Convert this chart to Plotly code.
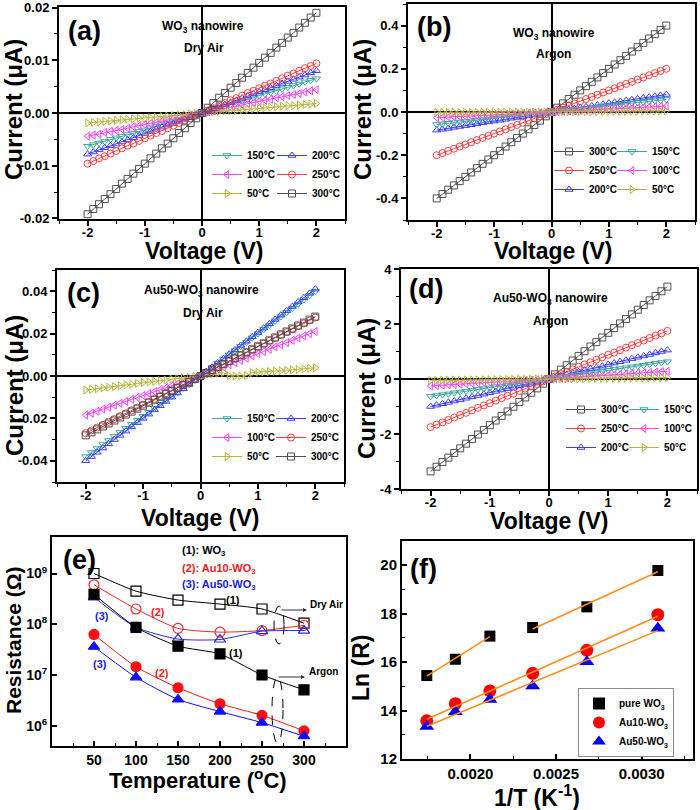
import numpy as np
import plotly.graph_objects as go

# ---------------- data ----------------
V = [-2.0,-1.9,-1.8,-1.7,-1.6,-1.5,-1.4,-1.3,-1.2,-1.1,-1.0,-0.9,-0.8,-0.7,-0.6,-0.5,-0.4,-0.3,-0.2,-0.1,
     0.0,0.1,0.2,0.3,0.4,0.5,0.6,0.7,0.8,0.9,1.0,1.1,1.2,1.3,1.4,1.5,1.6,1.7,1.8,1.9,2.0]

# (a) WO3 nanowire, dry air  (units of 1e-4 uA)
a300 = [-192,-182,-173,-163,-154,-144,-134,-125,-115,-106,-96,-86,-77,-67,-58,-48,-38,-29,-19,-10,0,10,19,29,38,48,57,67,76,86,95,105,114,124,133,143,152,162,171,181,190]
a250 = [-96,-91,-86,-82,-77,-72,-67,-62,-58,-53,-48,-43,-38,-34,-29,-24,-19,-14,-10,-5,0,5,9,14,19,24,28,33,38,42,47,52,56,61,66,71,75,80,85,89,94]
a200 = [-78,-74,-70,-66,-62,-59,-55,-51,-47,-43,-39,-35,-31,-27,-23,-20,-16,-12,-8,-4,0,4,8,12,16,20,24,28,32,36,40,44,48,52,56,60,64,68,72,76,80]
a150 = [-63,-60,-57,-54,-50,-47,-44,-41,-38,-35,-32,-28,-25,-22,-19,-16,-13,-9,-6,-3,0,3,7,10,13,16,20,23,26,29,33,36,39,42,46,49,52,55,59,62,65]
a100 = [-44,-42,-40,-37,-35,-33,-31,-29,-26,-24,-22,-20,-18,-15,-13,-11,-9,-7,-4,-2,0,2,4,7,9,11,13,15,18,20,22,24,26,29,31,33,35,37,40,42,44]
a50  = [-19,-18,-17,-16,-15,-14,-13,-12,-11,-10,-10,-9,-8,-7,-6,-5,-4,-3,-2,-1,0,1,2,3,4,5,5,6,7,8,9,10,11,12,13,14,14,15,16,17,18]

# (b) WO3 nanowire, argon  (units of 1e-3 uA)
b300 = [-400,-380,-360,-340,-320,-300,-280,-260,-240,-220,-200,-180,-160,-140,-120,-100,-80,-60,-40,-20,0,20,40,60,80,100,120,140,160,180,200,220,240,260,280,300,320,340,360,380,400]
b250 = [-200,-190,-180,-170,-160,-150,-140,-130,-120,-110,-100,-90,-80,-70,-60,-50,-40,-30,-20,-10,0,10,20,30,40,50,60,70,80,90,100,110,120,130,140,150,160,170,180,190,200]
b200 = [-84,-80,-76,-71,-67,-63,-59,-55,-50,-46,-42,-38,-34,-29,-25,-21,-17,-13,-8,-4,0,4,8,12,16,20,24,28,32,36,41,45,49,53,57,61,65,69,73,77,81]
b150 = [-58,-55,-52,-49,-46,-44,-41,-38,-35,-32,-29,-26,-23,-20,-17,-15,-12,-9,-6,-3,0,3,6,9,12,15,17,20,23,26,29,32,35,38,41,44,46,49,52,55,58]
b100 = [-26,-25,-23,-22,-21,-20,-18,-17,-16,-14,-13,-12,-10,-9,-8,-7,-5,-4,-3,-1,0,1,3,4,5,7,8,9,11,12,14,15,16,18,19,20,22,23,24,26,27]
b50  = [-2.0,-1.9,-1.8,-1.7,-1.6,-1.5,-1.4,-1.3,-1.2,-1.1,-1.0,-0.9,-0.8,-0.7,-0.6,-0.5,-0.4,-0.3,-0.2,-0.1,0,0.3,0.5,0.8,1.0,1.3,1.5,1.8,2.0,2.3,2.5,2.8,3.0,3.3,3.5,3.8,4.0,4.3,4.5,4.8,5.0]

# (c) Au50-WO3 nanowire, dry air  (units of 1e-3 uA)
c300 = [-28,-26.6,-25.2,-23.8,-22.4,-21,-19.6,-18.2,-16.8,-15.4,-14,-12.6,-11.2,-9.8,-8.4,-7,-5.6,-4.2,-2.8,-1.4,0,1.4,2.8,4.2,5.6,7,8.4,9.8,11.2,12.6,14,15.4,16.8,18.2,19.6,21,22.4,23.8,25.2,26.6,28]
c250 = [-27,-25.7,-24.3,-23,-21.6,-20.3,-18.9,-17.6,-16.2,-14.9,-13.5,-12.2,-10.8,-9.5,-8.1,-6.8,-5.4,-4.1,-2.7,-1.4,0,1.4,2.8,4.1,5.5,6.9,8.3,9.7,11,12.4,13.8,15.2,16.6,17.9,19.3,20.7,22.1,23.5,24.8,26.2,27.6]
c200 = [-40,-38,-36,-34,-32,-30,-28,-26,-24,-22,-20,-18,-16,-14,-12,-10,-8,-6,-4,-2,0,2.1,4.1,6.2,8.2,10.3,12.3,14.4,16.4,18.5,20.5,22.6,24.6,26.7,28.7,30.8,32.8,34.9,36.9,39,41]
c150 = [-38,-36.1,-34.2,-32.3,-30.4,-28.5,-26.6,-24.7,-22.8,-20.9,-19,-17.1,-15.2,-13.3,-11.4,-9.5,-7.6,-5.7,-3.8,-1.9,0,2,4,6,8,10,12,14,16,18,20,22,24,26,28,30,32,34,36,38,40]
c100 = [-18.4,-17.5,-16.6,-15.6,-14.7,-13.8,-12.9,-12.0,-11.0,-10.1,-9.2,-8.3,-7.4,-6.4,-5.5,-4.6,-3.7,-2.8,-1.8,-0.9,0,1.1,2.1,3.2,4.2,5.3,6.3,7.4,8.4,9.5,10.5,11.6,12.6,13.7,14.7,15.8,16.8,17.9,18.9,20.0,21.0]
c50  = [-6.6,-6.3,-6.0,-5.6,-5.3,-5.0,-4.6,-4.2,-3.9,-3.5,-3.1,-2.8,-2.5,-2.2,-1.9,-1.5,-1.2,-0.9,-0.6,-0.3,0,0.5,1.0,1.3,1.6,0.1,-0.1,0.0,0.2,1.6,1.8,1.9,2.1,2.3,2.5,2.7,2.9,3.1,3.3,3.6,3.9]

# (d) Au50-WO3 nanowire, argon  (units of 1e-2 uA)
d300 = [-336,-319,-302,-286,-269,-252,-235,-218,-202,-185,-168,-151,-134,-118,-101,-84,-67,-50,-34,-17,0,17,34,50,67,84,101,118,134,151,168,185,202,218,235,252,269,286,302,319,336]
d250 = [-175,-166,-158,-149,-140,-131,-123,-114,-105,-96,-88,-79,-70,-61,-53,-44,-35,-26,-18,-9,0,9,18,26,35,44,53,61,70,79,88,96,105,114,123,131,140,149,158,166,175]
d200 = [-100,-95,-90,-85,-80,-75,-70,-65,-60,-55,-50,-45,-40,-35,-30,-25,-20,-15,-10,-5,0,5,11,16,21,26,32,37,42,47,53,58,63,68,74,79,84,89,95,100,105]
d150 = [-63,-60,-57,-54,-50,-47,-44,-41,-38,-35,-32,-28,-25,-22,-19,-16,-13,-9,-6,-3,0,3,6,9,13,16,19,22,25,28,32,35,38,41,44,47,50,54,57,60,63]
d100 = [-25,-23.8,-22.5,-21.3,-20,-18.8,-17.5,-16.3,-15,-13.8,-12.5,-11.3,-10,-8.8,-7.5,-6.3,-5,-3.8,-2.5,-1.3,0,1.4,2.8,4.2,5.6,7,8.4,9.8,11.2,12.6,14,15.4,16.8,18.2,19.6,21,22.4,23.8,25.2,26.6,28]
d50  = [-5,-4.75,-4.5,-4.25,-4,-3.75,-3.5,-3.25,-3,-2.75,-2.5,-2.25,-2,-1.75,-1.5,-1.25,-1,-0.75,-0.5,-0.25,0,0.25,0.5,0.75,1,1.25,1.5,1.75,2,2.25,2.5,2.75,3,3.25,3.5,3.75,4,4.25,4.5,4.75,5]

# (e) resistance vs temperature (Ohm)
T_C = [50, 100, 150, 200, 250, 300]
R_air_WO3    = [1.0e9, 4.5e8, 3.0e8, 2.5e8, 2.0e8, 1.05e8]
R_air_Au10   = [6.0e8, 2.0e8, 8.3e7, 7.0e7, 7.5e7, 9.5e7]
R_air_Au50   = [3.4e8, 8.7e7, 5.1e7, 5.0e7, 7.3e7, 7.5e7]
R_ar_WO3     = [3.9e8, 8.7e7, 3.7e7, 2.6e7, 1.0e7, 5.1e6]
R_ar_Au10    = [6.3e7, 1.45e7, 5.6e6, 2.7e6, 1.6e6, 7.9e5]
R_ar_Au50    = [3.6e7, 9.0e6, 3.3e6, 1.9e6, 1.15e6, 6.2e5]

for s in [a300,a250,a200,a150,a100,a50,b300,b250,b200,b150,b100,b50,c300,c250,c200,c150,c100,c50,
          d300,d250,d200,d150,d100,d50]:
    assert len(s) == len(V)

# ---------------- helpers ----------------
W, H = 700, 810
def PX(x): return min(1.0, max(0.0, x / W))
def PY(y): return min(1.0, max(0.0, 1 - y / H))

FAM = "Liberation Sans"
BLACK = "black"
STYLE = {
    '300': ('#505050', 'square-open'),
    '250': ('#ff3c3c', 'circle-open'),
    '200': ('#3c3cff', 'triangle-up-open'),
    '150': ('#3aa89c', 'triangle-down-open'),
    '100': ('#ff3cff', 'triangle-left-open'),
    '50':  ('#b4b43c', 'triangle-right-open'),
}

fig = go.Figure()

panels = [
    (1, {'300': a300, '250': a250, '200': a200, '150': a150, '100': a100, '50': a50}, 1e-4,
     ['150', '100', '50'], ['200', '250', '300'], ('legend', 'legend2')),
    (2, {'300': b300, '250': b250, '200': b200, '150': b150, '100': b100, '50': b50}, 1e-3,
     ['300', '250', '200'], ['150', '100', '50'], ('legend3', 'legend4')),
    (3, {'300': c300, '250': c250, '200': c200, '150': c150, '100': c100, '50': c50}, 1e-3,
     ['150', '100', '50'], ['200', '250', '300'], ('legend5', 'legend6')),
    (4, {'300': d300, '250': d250, '200': d200, '150': d150, '100': d100, '50': d50}, 1e-2,
     ['300', '250', '200'], ['150', '100', '50'], ('legend7', 'legend8')),
]

for idx, data, scale, col1, col2, legs in panels:
    xa = 'x' if idx == 1 else f'x{idx}'
    ya = 'y' if idx == 1 else f'y{idx}'
    for col, leg in ((col1, legs[0]), (col2, legs[1])):
        for t in col:
            color, sym = STYLE[t]
            fig.add_trace(go.Scatter(
                x=V, y=np.array(data[t]) * scale, mode='lines+markers',
                name=f'{t}°C', legend=leg, xaxis=xa, yaxis=ya,
                line=dict(color=color, width=1),
                marker=dict(symbol=sym, size=7, color=color, line=dict(width=1, color=color)),
            ))

# panel e
e_series = [
    (R_air_WO3, 'black', 'square-open'), (R_air_Au10, '#e8282c', 'circle-open'), (R_air_Au50, '#2a2ae8', 'triangle-up-open'),
    (R_ar_WO3, 'black', 'square'), (R_ar_Au10, '#ff1010', 'circle'), (R_ar_Au50, '#1010ff', 'triangle-up'),
]
for r, c, sym in e_series:
    fig.add_trace(go.Scatter(x=T_C, y=r, mode='lines+markers', xaxis='x5', yaxis='y5', showlegend=False,
                             line=dict(color=c, width=1, shape='spline', smoothing=0.6),
                             marker=dict(symbol=sym, size=10, color=c, line=dict(width=1.2, color=c))))

# panel f : ln(R) in argon vs 1/T
invT = 1.0 / (np.array(T_C) + 273.15)
f_series = [
    ('pure WO<sub>3</sub>', np.log(R_ar_WO3), 'black', 'square', 11),
    ('Au10-WO<sub>3</sub>', np.log(R_ar_Au10), '#ff0000', 'circle', 13),
    ('Au50-WO<sub>3</sub>', np.log(R_ar_Au50), '#0000ff', 'triangle-up', 13),
]
for name, lnr, c, sym, sz in f_series:
    fig.add_trace(go.Scatter(x=invT, y=lnr, mode='markers', name=name, legend='legend9',
                             xaxis='x6', yaxis='y6',
                             marker=dict(symbol=sym, size=sz, color=c)))
fit_groups = [
    (np.log(R_ar_WO3), [3, 4, 5]),
    (np.log(R_ar_WO3), [0, 1, 2]),
    (np.log(R_ar_Au10), [0, 1, 2, 3, 4, 5]),
    (np.log(R_ar_Au50), [0, 1, 2, 3, 4, 5]),
]
for lnr, ids in fit_groups:
    xs = invT[ids]
    k, b0 = np.polyfit(xs, lnr[ids], 1)
    xe = np.array([xs.min(), xs.max()])
    fig.add_trace(go.Scatter(x=xe, y=k * xe + b0, mode='lines', xaxis='x6', yaxis='y6', showlegend=False,
                             line=dict(color='#ff8c1a', width=1.6)))

# ---------------- layout ----------------
boxes = {1: (59, 345, 7, 219), 2: (408, 695, 4, 220), 3: (57, 344, 270, 482),
         4: (401, 697, 269, 489), 5: (52, 346, 537, 746), 6: (402, 693, 541, 759)}

def tfont(size): return dict(family=FAM, size=size, color=BLACK, weight='bold')

def base_axis(idx, is_x, ticks='outside'):
    x0, x1, y0, y1 = boxes[idx]
    d = dict(showline=True, linecolor=BLACK, linewidth=2, mirror=True, showgrid=False,
             ticks=ticks, ticklen=5, tickwidth=1.5, tickcolor=BLACK, tickfont=tfont(13),
             automargin=False, zeroline=False)
    if is_x:
        d['domain'] = [PX(x0), PX(x1)]
        d['anchor'] = 'y' if idx == 1 else f'y{idx}'
    else:
        d['domain'] = [PY(y1), PY(y0)]
        d['anchor'] = 'x' if idx == 1 else f'x{idx}'
    return d

lay = {}
iv_y = {
    1: ([-0.0201, 0.0201], [-0.02, -0.01, 0, 0.01, 0.02], ['-0.02', '-0.01', '0.00', '0.01', '0.02'], [-0.015, -0.005, 0.005, 0.015]),
    2: ([-0.5, 0.5], [-0.4, -0.2, 0, 0.2, 0.4], ['-0.4', '-0.2', '0.0', '0.2', '0.4'], [-0.5, -0.3, -0.1, 0.1, 0.3, 0.5]),
    3: ([-0.05, 0.05], [-0.04, -0.02, 0, 0.02, 0.04], ['-0.04', '-0.02', '0.00', '0.02', '0.04'], [-0.05, -0.03, -0.01, 0.01, 0.03, 0.05]),
    4: ([-4, 4], [-4, -2, 0, 2, 4], ['-4', '-2', '0', '2', '4'], [-3, -1, 1, 3]),
}
for idx in range(1, 5):
    xk = 'xaxis' if idx == 1 else f'xaxis{idx}'
    yk = 'yaxis' if idx == 1 else f'yaxis{idx}'
    xa = base_axis(idx, True)
    xa.update(range=[-2.5, 2.5], tickvals=[-2, -1, 0, 1, 2], ticktext=['-2', '-1', '0', '1', '2'],
              ticklabelstandoff=-5,
              minor=dict(tickvals=[-2.5, -1.5, -0.5, 0.5, 1.5, 2.5], ticks='outside', ticklen=3, tickwidth=1.2, tickcolor=BLACK),
              zeroline=True, zerolinecolor=BLACK, zerolinewidth=2)
    rng, tv, tt, mv = iv_y[idx]
    ya = base_axis(idx, False)
    ya.update(range=rng, tickvals=tv, ticktext=tt,
              minor=dict(tickvals=mv, ticks='outside', ticklen=3, tickwidth=1.2, tickcolor=BLACK),
              zeroline=True, zerolinecolor=BLACK, zerolinewidth=2)
    lay[xk] = xa
    lay[yk] = ya

xa = base_axis(5, True, 'inside')
xa.update(range=[0, 350], tickvals=[50, 100, 150, 200, 250, 300], tickfont=tfont(14),
          minor=dict(tickvals=[25, 75, 125, 175, 225, 275, 325], ticks='inside', ticklen=3, tickwidth=1.2, tickcolor=BLACK))
ya = base_axis(5, False, 'inside')
ya.update(type='log', range=[5.6, 9.72], tickvals=[1e6, 1e7, 1e8, 1e9], tickfont=tfont(14),
          ticktext=['10<sup>6</sup>', '10<sup>7</sup>', '10<sup>8</sup>', '10<sup>9</sup>'])
lay['xaxis5'] = xa
lay['yaxis5'] = ya

xa = base_axis(6, True, 'inside')
xa.update(range=[0.0016, 0.0033], tickvals=[0.0020, 0.0025, 0.0030], ticktext=['0.0020', '0.0025', '0.0030'],
          tickfont=tfont(15),
          minor=dict(tickvals=[0.00175, 0.00225, 0.00275, 0.00325], ticks='inside', ticklen=3, tickwidth=1.2, tickcolor=BLACK))
ya = base_axis(6, False, 'inside')
ya.update(range=[12, 21], tickvals=[12, 14, 16, 18, 20], tickfont=tfont(15),
          minor=dict(tickvals=[13, 15, 17, 19, 21], ticks='inside', ticklen=3, tickwidth=1.2, tickcolor=BLACK))
lay['xaxis6'] = xa
lay['yaxis6'] = ya

def iv_legend(xpx, ypx):
    return dict(x=PX(xpx), y=PY(ypx), xanchor='left', yanchor='top', bgcolor='rgba(0,0,0,0)',
                font=dict(family=FAM, size=10, color=BLACK, weight='bold'), tracegroupgap=0,
                itemwidth=30, traceorder='normal')
lay['legend'] = iv_legend(207, 141)
lay['legend2'] = iv_legend(272, 141)
lay['legend3'] = iv_legend(549, 137)
lay['legend4'] = iv_legend(612, 137)
lay['legend5'] = iv_legend(207, 404)
lay['legend6'] = iv_legend(271, 404)
lay['legend7'] = iv_legend(561, 395)
lay['legend8'] = iv_legend(624, 395)
lay['legend9'] = dict(x=PX(578), y=PY(688), xanchor='left', yanchor='top', bgcolor='white',
                      bordercolor='#8a8a8a', borderwidth=1, itemsizing='constant',
                      font=dict(family=FAM, size=10, color=BLACK, weight='bold'), tracegroupgap=0)

ann = []
def text(xp, yp, s, size, color=BLACK, xanchor='center', angle=0):
    ann.append(dict(x=PX(xp), y=PY(yp), xref='paper', yref='paper', text=s, showarrow=False,
                    xanchor=xanchor, yanchor='middle', textangle=angle,
                    font=dict(family=FAM, size=size, color=color, weight='bold')))

# axis titles
for xp, yp in [(204, 251), (553, 251), (200, 518), (549, 521)]:
    text(xp, yp, 'Voltage (V)', 23)
for xp, yp in [(14, 110), (363, 110), (14, 386), (367, 388)]:
    text(xp, yp, 'Current (μA)', 24, angle=-90)
text(198, 779, 'Temperature (<sup>o</sup>C)', 22)
text(13, 640, 'Resistance (Ω)', 21, angle=-90)
text(537, 796, '1/T (K<sup>-1</sup>)', 23)
text(361, 668, 'Ln (R)', 23, angle=-90)

for lbl, xp, yp in [('(a)', 84, 31), ('(b)', 434, 27), ('(c)', 83, 293), ('(d)', 426, 289), ('(e)', 79, 560), ('(f)', 423, 569)]:
    text(xp, yp, lbl, 27)

text(203, 27, 'WO<sub>3</sub> nanowire', 12)
text(204, 48, 'Dry Air', 12)
text(554, 34, 'WO<sub>3</sub> nanowire', 12)
text(553, 54, 'Argon', 12)
text(201, 291, 'Au50-WO<sub>3</sub> nanowire', 12)
text(203, 313, 'Dry Air', 12)
text(550, 299, 'Au50-WO<sub>3</sub> nanowire', 12)
text(550, 321, 'Argon', 12)

RED, BLUE = '#e81e1e', '#2020d8'
text(180, 551, '(1): WO<sub>3</sub>', 11, BLACK, 'left')
text(180, 569, '(2): Au10-WO<sub>3</sub>', 11, RED, 'left')
text(180, 585, '(3): Au50-WO<sub>3</sub>', 11, BLUE, 'left')
text(233, 600, '(1)', 11, BLACK)
text(236, 653, '(1)', 11, BLACK)
text(158, 612, '(2)', 11, RED)
text(162, 673, '(2)', 11, RED)
text(102, 616, '(3)', 11, BLUE)
text(100, 664, '(3)', 11, BLUE)
text(308, 604, 'Dry Air', 10, BLACK, 'left')
text(307, 671, 'Argon', 10, BLACK, 'left')

for x_tail, x_head, yy in [(280, 307, 610), (277, 305, 677)]:
    ann.append(dict(x=PX(x_head), y=PY(yy), xref='paper', yref='paper',
                    ax=x_tail - x_head, ay=0, axref='pixel', ayref='pixel',
                    text='', showarrow=True, arrowhead=2, arrowsize=0.8,
                    arrowwidth=1, arrowcolor='#333333'))

shapes = []
for x0, x1, y0, y1 in [(274, 284, 606, 644), (272, 283, 677, 743)]:
    shapes.append(dict(type='circle', xref='paper', yref='paper', x0=PX(x0), x1=PX(x1), y0=PY(y1), y1=PY(y0),
                       line=dict(color='black', width=1, dash='dash')))

fig.update_layout(
    width=W, height=H, margin=dict(l=0, r=0, t=0, b=0),
    paper_bgcolor='white', plot_bgcolor='white',
    font=dict(family=FAM, color=BLACK, weight='bold'),
    annotations=ann, shapes=shapes, showlegend=True,
    **lay,
)

fig.write_html("out.html", config={'displayModeBar': False},
               post_script="document.body.style.margin='0px';")
